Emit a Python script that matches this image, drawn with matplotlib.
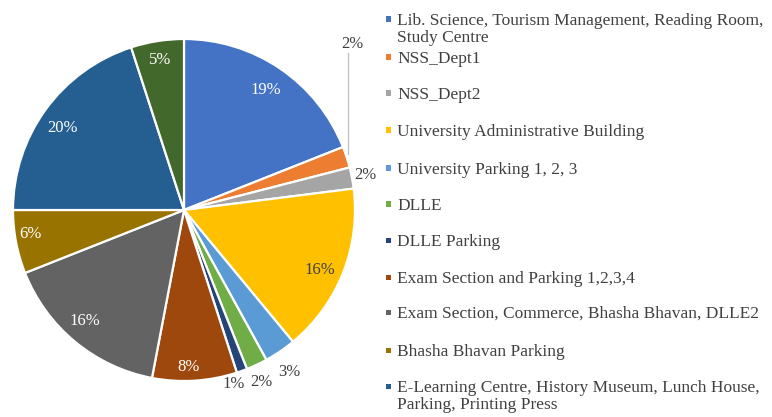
import numpy as np
import matplotlib
matplotlib.use("Agg")
import matplotlib.pyplot as plt
from matplotlib.patches import Rectangle

categories = [
    "Lib. Science, Tourism Management, Reading Room,\nStudy Centre",
    "NSS_Dept1",
    "NSS_Dept2",
    "University Administrative Building",
    "University Parking 1, 2, 3",
    "DLLE",
    "DLLE Parking",
    "Exam Section and Parking 1,2,3,4",
    "Exam Section, Commerce, Bhasha Bhavan, DLLE2",
    "Bhasha Bhavan Parking",
    "E-Learning Centre, History Museum, Lunch House,\nParking, Printing Press",
    "Other",
]
shares = [19, 2, 2, 16, 3, 2, 1, 8, 16, 6, 20, 5]
colors = ["#4472C4", "#ED7D31", "#A5A5A5", "#FFC000", "#5B9BD5", "#70AD47",
          "#264478", "#9E480E", "#636363", "#997300", "#255E91", "#43682B"]
legend_count = 11

W, H = 772, 417
fig = plt.figure(figsize=(W / 100, H / 100), dpi=100)
fig.patch.set_facecolor("white")

cx, cy, r = 184, 210, 171
ax = fig.add_axes([(cx - r) / W, (H - cy - r) / H, 2 * r / W, 2 * r / H])
wedges, _ = ax.pie(shares, colors=colors, startangle=90, counterclock=False,
                   wedgeprops=dict(edgecolor="white", linewidth=1.6))
ax.set_xlim(-1, 1)
ax.set_ylim(-1, 1)
ax.set_aspect("equal")
ax.axis("off")

serif = ["Liberation Serif", "DejaVu Serif"]
dark = "#404040"
# label placement: radius (in pie radii) and angle offset (degrees)
label_r = [0.85, None, 1.08, 0.87, 1.13, 1.10, 1.06, 0.92, 0.87, 0.91, 0.86, 0.89]
label_dang = [0, 0, 0, -2, -1, -1, -4, -2, -2, -2, 2, 0]
white_text = {0, 7, 8, 9, 10, 11}
for i, w in enumerate(wedges):
    mid = np.deg2rad((w.theta1 + w.theta2) / 2 + label_dang[i])
    txt = f"{shares[i]}%"
    if label_r[i] is None:
        # leader line running up from the slice edge to its label
        ex, ey = np.cos(mid), np.sin(mid)
        ax.plot([ex + 0.01, ex + 0.01], [ey + 0.02, 0.92], color="#BFBFBF",
                lw=0.9, clip_on=False)
        ax.text(ex + 0.035, 0.97, txt, ha="center", va="center", fontsize=12,
                family=serif, color=dark, clip_on=False)
        continue
    x, y = label_r[i] * np.cos(mid), label_r[i] * np.sin(mid)
    col = "white" if i in white_text else dark
    ax.text(x, y, txt, ha="center", va="center", fontsize=12, family=serif,
            color=col, clip_on=False)

# legend
leg_y = [19, 57, 93, 130, 168, 204, 240, 277, 312, 350, 386]
line_step = 17
for i in range(legend_count):
    y = leg_y[i]
    fig.patches.append(Rectangle((386 / W, (H - y - 2.5) / H), 5 / W, 5 / H,
                                 transform=fig.transFigure,
                                 facecolor=colors[i], edgecolor="none"))
    for k, line in enumerate(categories[i].split("\n")):
        fig.text(397 / W, (H - y - k * line_step) / H, line, ha="left",
                 va="center_baseline", fontsize=12.5, family=serif, color=dark,
                 transform=fig.transFigure)

fig.savefig("out.png", dpi=100)
